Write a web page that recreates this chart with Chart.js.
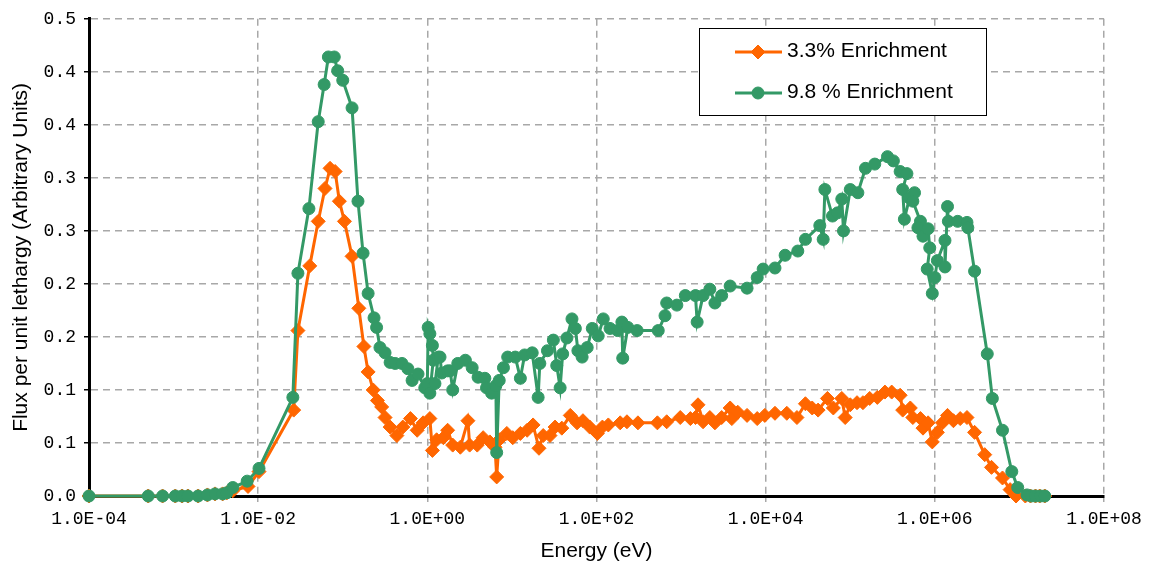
<!DOCTYPE html>
<html>
<head>
<meta charset="utf-8">
<script src="https://cdn.jsdelivr.net/npm/chart.js@4.4.1/dist/chart.umd.min.js"></script>
<style>
  html, body { margin: 0; padding: 0; background: #ffffff; }
  #wrap { position: relative; width: 1150px; height: 569px; }
</style>
</head>
<body>
<div id="wrap"><canvas id="fluxChart" width="1150" height="569"></canvas></div>
<script>
// Series names
const seriesNames = ['3.3% Enrichment', '9.8 % Enrichment'];

// 3.3% enrichment: log10 of energy (eV) and flux per unit lethargy
const logEnergy33 = [
  -4.00, -3.30, -3.13, -2.98, -2.90, -2.83, -2.71, -2.60, -2.51, -2.42, -2.37, -2.30, -2.12, -1.99,
  -1.58, -1.53, -1.39, -1.29, -1.21, -1.15, -1.09, -1.04, -0.98, -0.89, -0.81, -0.75, -0.70, -0.64, -0.59, -0.54, -0.50, -0.44, -0.36, -0.29, -0.20, -0.12, -0.05,
  0.03, 0.06, 0.11, 0.19, 0.24, 0.30, 0.39, 0.48, 0.50, 0.59, 0.66, 0.74, 0.80, 0.82, 0.85, 0.94,
  1.01, 1.10, 1.18, 1.25, 1.32, 1.37, 1.45, 1.51, 1.59, 1.69, 1.77, 1.84, 1.92,
  2.01, 2.07, 2.14, 2.28, 2.36, 2.49, 2.72, 2.83, 2.99,
  3.11, 3.17, 3.20, 3.26, 3.34, 3.40, 3.48, 3.58, 3.60, 3.67, 3.78, 3.90, 3.99,
  4.11, 4.25, 4.37, 4.47, 4.55, 4.62, 4.73, 4.80, 4.90, 4.94,
  5.00, 5.08, 5.15, 5.23, 5.32, 5.41, 5.49, 5.59, 5.62, 5.71, 5.74, 5.83, 5.86, 5.92, 5.97,
  6.03, 6.09, 6.15, 6.22, 6.30, 6.38, 6.47, 6.59, 6.67, 6.80, 6.89, 6.96,
  7.07, 7.13, 7.19, 7.24, 7.30
];
const flux33 = [
  0, 0, 0, 0, 0, 0, 0, 0.001, 0.002, 0.002, 0.003, 0.005, 0.009, 0.023,
  0.081, 0.156, 0.217, 0.259, 0.290, 0.309, 0.306, 0.278, 0.259, 0.226, 0.177, 0.141, 0.117, 0.100, 0.090, 0.084, 0.074, 0.065, 0.057, 0.065, 0.073, 0.062, 0.069,
  0.073, 0.043, 0.053, 0.055, 0.062, 0.048, 0.046, 0.071, 0.048, 0.048, 0.055, 0.051, 0.046, 0.018, 0.053, 0.059,
  0.055, 0.059, 0.062, 0.067, 0.045, 0.057, 0.057, 0.065, 0.064, 0.076, 0.069, 0.071, 0.065,
  0.059, 0.065, 0.067, 0.069, 0.070, 0.069, 0.069, 0.070, 0.074,
  0.073, 0.074, 0.086, 0.070, 0.074, 0.069, 0.074, 0.083, 0.073, 0.079, 0.076, 0.073, 0.076,
  0.078, 0.078, 0.074, 0.087, 0.083, 0.081, 0.092, 0.083, 0.092, 0.074,
  0.086, 0.088, 0.088, 0.092, 0.093, 0.098, 0.098, 0.095, 0.081, 0.083, 0.074, 0.073, 0.064, 0.069, 0.051,
  0.060, 0.069, 0.076, 0.071, 0.073, 0.074, 0.060, 0.039, 0.027, 0.017, 0.006, 0,
  0, 0, 0, 0, 0
];

// 9.8 % enrichment: log10 of energy (eV) and flux per unit lethargy
const logEnergy98 = [
  -4.00, -3.30, -3.13, -2.98, -2.90, -2.83, -2.71, -2.60, -2.51, -2.42, -2.37, -2.30, -2.13, -1.99,
  -1.59, -1.53, -1.40, -1.29, -1.22, -1.17, -1.10, -1.06, -1.00, -0.89, -0.82, -0.76, -0.70, -0.63, -0.60, -0.56, -0.50, -0.44, -0.38, -0.30, -0.23, -0.18, -0.11,
  -0.03, 0.00, 0.01, 0.03, 0.06, 0.07, 0.03, 0.09, 0.13, 0.15, 0.17, 0.24, 0.27, 0.30, 0.36, 0.45, 0.53, 0.60, 0.68, 0.70, 0.76, 0.81, 0.82, 0.85, 0.90, 0.95,
  1.04, 1.10, 1.15, 1.24, 1.31, 1.33, 1.42, 1.49, 1.53, 1.57, 1.60, 1.65, 1.71, 1.75, 1.78, 1.83, 1.89, 1.95,
  2.02, 2.08, 2.16, 2.25, 2.30, 2.31, 2.37, 2.48, 2.73, 2.81, 2.83, 2.95,
  3.05, 3.17, 3.19, 3.26, 3.34, 3.40, 3.48, 3.58, 3.78, 3.90, 3.97,
  4.11, 4.23, 4.38, 4.47, 4.64, 4.68, 4.70, 4.79, 4.85, 4.90, 4.92,
  5.00, 5.09, 5.18, 5.29, 5.44, 5.51, 5.59, 5.67, 5.62, 5.64, 5.70, 5.76, 5.74, 5.83, 5.80, 5.86, 5.92, 5.94, 5.91, 5.97,
  6.00, 6.03, 6.12, 6.12, 6.15, 6.16, 6.27, 6.38, 6.39, 6.47, 6.62, 6.68, 6.80, 6.91, 6.98,
  7.09, 7.14, 7.19, 7.25, 7.30
];
const flux98 = [
  0, 0, 0, 0, 0, 0, 0, 0.001, 0.002, 0.002, 0.003, 0.008, 0.014, 0.026,
  0.093, 0.210, 0.271, 0.353, 0.388, 0.414, 0.414, 0.401, 0.392, 0.366, 0.278, 0.229, 0.191, 0.168, 0.159, 0.140, 0.135, 0.126, 0.125, 0.125, 0.120, 0.109, 0.115,
  0.102, 0.106, 0.159, 0.153, 0.142, 0.128, 0.097, 0.106, 0.131, 0.131, 0.116, 0.118, 0.118, 0.100, 0.125, 0.128, 0.121, 0.112, 0.111, 0.102, 0.097, 0.104, 0.041, 0.109, 0.121, 0.131,
  0.131, 0.111, 0.133, 0.135, 0.093, 0.125, 0.137, 0.147, 0.123, 0.102, 0.134, 0.149, 0.167, 0.158, 0.137, 0.131, 0.140, 0.158,
  0.151, 0.167, 0.158, 0.156, 0.164, 0.130, 0.159, 0.156, 0.156, 0.170, 0.182, 0.180,
  0.189, 0.189, 0.164, 0.189, 0.195, 0.182, 0.189, 0.198, 0.196, 0.206, 0.214,
  0.215, 0.227, 0.231, 0.242, 0.255, 0.242, 0.289, 0.264, 0.267, 0.280, 0.250,
  0.289, 0.286, 0.309, 0.313, 0.320, 0.316, 0.306, 0.304, 0.289, 0.261, 0.281, 0.286, 0.278, 0.259, 0.253, 0.245, 0.252, 0.234, 0.214, 0.191,
  0.206, 0.222, 0.241, 0.216, 0.273, 0.259, 0.259, 0.258, 0.253, 0.212, 0.134, 0.092, 0.062, 0.023, 0.008,
  0.001, 0, 0, 0, 0
];

// Axis ticks
const xTickValues = [1e-4, 1e-2, 1e0, 1e2, 1e4, 1e6, 1e8];
const xTickLabels = ['1.0E-04', '1.0E-02', '1.0E+00', '1.0E+02', '1.0E+04', '1.0E+06', '1.0E+08'];
const yTickLabels = ['0.0', '0.1', '0.1', '0.2', '0.2', '0.3', '0.3', '0.4', '0.4', '0.5'];

const ORANGE = '#ff6600';
const GREEN = '#339966';
const GRID = '#a8a8a8';
const SANS = '"Liberation Sans", Arial, sans-serif';
const MONO = '"Liberation Mono", "Courier New", monospace';

const toPoints = (logE, flux) => logE.map((e, i) => ({ x: Math.pow(10, e), y: flux[i] }));

// Boxed legend drawn inside the plot, top right
const boxedLegend = {
  id: 'boxedLegend',
  afterDraw(chart) {
    const ctx = chart.ctx;
    const bx = 699, by = 28, bw = 287, bh = 87;
    ctx.save();
    ctx.fillStyle = '#ffffff';
    ctx.fillRect(bx, by, bw, bh);
    ctx.strokeStyle = '#000000';
    ctx.lineWidth = 1;
    ctx.strokeRect(bx + 0.5, by + 0.5, bw, bh);
    chart.data.datasets.forEach((ds, i) => {
      const cy = by + 24 + i * 41;
      ctx.strokeStyle = ds.borderColor;
      ctx.lineWidth = 3;
      ctx.beginPath();
      ctx.moveTo(735, cy);
      ctx.lineTo(782, cy);
      ctx.stroke();
      ctx.fillStyle = ds.pointBackgroundColor;
      ctx.strokeStyle = ds.pointBorderColor;
      ctx.lineWidth = 1;
      Chart.helpers.drawPoint(ctx, { pointStyle: ds.pointStyle, radius: ds.pointRadius, borderWidth: 1, rotation: 0 }, 758, cy);
      ctx.fillStyle = '#000000';
      ctx.font = '21px ' + SANS;
      ctx.textBaseline = 'middle';
      ctx.textAlign = 'left';
      ctx.fillText(ds.label, 787, cy - 1);
    });
    ctx.restore();
  }
};

new Chart(document.getElementById('fluxChart'), {
  type: 'line',
  data: {
    datasets: [
      {
        label: seriesNames[0],
        data: toPoints(logEnergy33, flux33),
        borderColor: ORANGE,
        backgroundColor: ORANGE,
        pointBackgroundColor: ORANGE,
        pointBorderColor: ORANGE,
        borderWidth: 3,
        pointStyle: 'rectRot',
        pointRadius: 7,
        pointBorderWidth: 1,
        tension: 0,
        clip: false,
        order: 1
      },
      {
        label: seriesNames[1],
        data: toPoints(logEnergy98, flux98),
        borderColor: GREEN,
        backgroundColor: GREEN,
        pointBackgroundColor: GREEN,
        pointBorderColor: GREEN,
        borderWidth: 3,
        pointStyle: 'circle',
        pointRadius: 6,
        pointBorderWidth: 1,
        tension: 0,
        clip: false,
        order: 0
      }
    ]
  },
  options: {
    responsive: false,
    animation: false,
    devicePixelRatio: 1,
    layout: { padding: { left: 0, right: 46, top: 17, bottom: 0 } },
    plugins: {
      legend: { display: false },
      tooltip: { enabled: false }
    },
    scales: {
      x: {
        type: 'logarithmic',
        position: 'bottom',
        min: 1e-4,
        max: 1e8,
        afterBuildTicks: (scale) => { scale.ticks = xTickValues.map(v => ({ value: v })); },
        afterFit: (scale) => { scale.height = 73; },
        ticks: {
          autoSkip: false,
          maxRotation: 0,
          minRotation: 0,
          color: '#000000',
          font: { family: MONO, size: 18 },
          padding: 6,
          callback: (v, i) => xTickLabels[i]
        },
        grid: {
          color: GRID,
          lineWidth: 1.5,
          tickLength: 6,
          tickColor: GRID,
          tickBorderDash: []
        },
        border: { display: true, color: '#000000', width: 3, dash: [7, 5] },
        title: {
          display: true,
          text: 'Energy (eV)',
          color: '#000000',
          font: { family: SANS, size: 21 },
          padding: { top: 0, bottom: 5 }
        }
      },
      y: {
        type: 'linear',
        position: 'left',
        min: 0,
        max: 0.45,
        afterFit: (scale) => { scale.width = 89; },
        ticks: {
          stepSize: 0.05,
          color: '#000000',
          font: { family: MONO, size: 18 },
          padding: 8,
          callback: (v, i) => yTickLabels[i]
        },
        grid: {
          color: GRID,
          lineWidth: 1.5,
          tickLength: 5,
          tickColor: '#000000',
          tickBorderDash: []
        },
        border: { display: true, color: '#000000', width: 3, dash: [7, 5] },
        title: {
          display: true,
          text: 'Flux per unit lethargy (Arbitrary Units)',
          color: '#000000',
          font: { family: SANS, size: 21 },
          padding: { top: 9, bottom: 0 }
        }
      }
    }
  },
  plugins: [boxedLegend]
});
</script>
</body>
</html>
